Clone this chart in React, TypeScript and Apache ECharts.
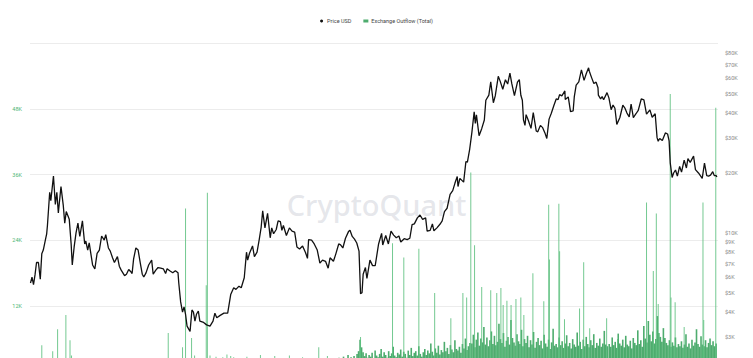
import React, { useEffect, useRef } from 'react';
import * as echarts from 'echarts';

const seriesNames = ['Price USD', 'Exchange Outflow (Total)'];

const priceUsd: [string, number][] = [
  ['2017-10-17', 5600], ['2017-10-21', 6000], ['2017-10-25', 5500], ['2017-10-29', 6150], ['2017-11-02', 7100],
  ['2017-11-07', 7100], ['2017-11-12', 5850], ['2017-11-16', 7850], ['2017-11-20', 8200], ['2017-11-26', 9300],
  ['2017-11-29', 9900], ['2017-12-01', 10900], ['2017-12-07', 16000], ['2017-12-10', 14500], ['2017-12-17', 19300],
  ['2017-12-22', 13900], ['2017-12-26', 16000], ['2017-12-30', 12600], ['2018-01-06', 17100], ['2018-01-12', 13800],
  ['2018-01-16', 11200], ['2018-01-20', 12800], ['2018-01-28', 11700], ['2018-02-02', 8800], ['2018-02-05', 6900],
  ['2018-02-10', 8500], ['2018-02-15', 10000], ['2018-02-20', 11200], ['2018-02-25', 9600], ['2018-03-04', 11500],
  ['2018-03-10', 8800], ['2018-03-13', 9100], ['2018-03-18', 8200], ['2018-03-22', 8900], ['2018-03-31', 6900],
  ['2018-04-06', 6600], ['2018-04-12', 7900], ['2018-04-18', 8200], ['2018-04-24', 9650], ['2018-05-01', 9200],
  ['2018-05-05', 9800], ['2018-05-12', 8400], ['2018-05-17', 8100], ['2018-05-23', 7500], ['2018-05-28', 7100],
  ['2018-06-05', 7600], ['2018-06-10', 6800], ['2018-06-15', 6500], ['2018-06-24', 6100], ['2018-06-29', 6200],
  ['2018-07-05', 6550], ['2018-07-10', 6400], ['2018-07-14', 6250], ['2018-07-18', 7400], ['2018-07-24', 8400],
  ['2018-07-30', 8200], ['2018-08-05', 7000], ['2018-08-10', 6200], ['2018-08-14', 6000], ['2018-08-20', 6300],
  ['2018-08-27', 6900], ['2018-09-04', 7300], ['2018-09-08', 6200], ['2018-09-15', 6500], ['2018-09-21', 6700],
  ['2018-09-28', 6650], ['2018-10-05', 6600], ['2018-10-11', 6250], ['2018-10-15', 6600], ['2018-10-22', 6450],
  ['2018-10-30', 6300], ['2018-11-06', 6450], ['2018-11-13', 6300], ['2018-11-15', 5600], ['2018-11-20', 4500],
  ['2018-11-25', 4000], ['2018-11-29', 4250], ['2018-12-03', 3900], ['2018-12-07', 3400], ['2018-12-15', 3200],
  ['2018-12-20', 4100], ['2018-12-24', 4000], ['2018-12-28', 3600], ['2019-01-01', 3900], ['2019-01-06', 4050],
  ['2019-01-10', 3600], ['2019-01-20', 3550], ['2019-01-28', 3450], ['2019-02-06', 3400], ['2019-02-14', 3600],
  ['2019-02-19', 3950], ['2019-02-24', 3750], ['2019-03-05', 3850], ['2019-03-15', 3950], ['2019-03-25', 3950],
  ['2019-04-02', 4900], ['2019-04-10', 5300], ['2019-04-16', 5200], ['2019-04-24', 5400], ['2019-04-30', 5300],
  ['2019-05-08', 5950], ['2019-05-14', 8000], ['2019-05-17', 7300], ['2019-05-22', 7900], ['2019-05-30', 8600],
  ['2019-06-04', 7600], ['2019-06-11', 8000], ['2019-06-17', 9300], ['2019-06-22', 10700], ['2019-06-26', 12900],
  ['2019-07-02', 10600], ['2019-07-09', 12550], ['2019-07-16', 9450], ['2019-07-20', 10600], ['2019-07-25', 9900],
  ['2019-08-01', 10400], ['2019-08-06', 11500], ['2019-08-12', 11400], ['2019-08-16', 10300], ['2019-08-20', 10900],
  ['2019-08-28', 9700], ['2019-09-05', 10600], ['2019-09-12', 10200], ['2019-09-19', 10100], ['2019-09-25', 8500],
  ['2019-10-02', 8300], ['2019-10-10', 8600], ['2019-10-18', 7950], ['2019-10-23', 7450], ['2019-10-26', 9250],
  ['2019-11-03', 9200], ['2019-11-10', 8800], ['2019-11-18', 8200], ['2019-11-25', 7050], ['2019-12-02', 7300],
  ['2019-12-10', 7200], ['2019-12-17', 6650], ['2019-12-22', 7500], ['2019-12-31', 7200], ['2020-01-06', 7800],
  ['2020-01-14', 8800], ['2020-01-19', 8700], ['2020-01-25', 8400], ['2020-02-01', 9400], ['2020-02-09', 10150],
  ['2020-02-13', 10300], ['2020-02-19', 9600], ['2020-02-25', 9300], ['2020-03-02', 8900], ['2020-03-08', 8100],
  ['2020-03-12', 4950], ['2020-03-16', 5000], ['2020-03-19', 6200], ['2020-03-25', 6700], ['2020-03-29', 5900],
  ['2020-04-06', 7300], ['2020-04-13', 6850], ['2020-04-20', 6850], ['2020-04-29', 8800], ['2020-05-07', 9950],
  ['2020-05-10', 8700], ['2020-05-18', 9700], ['2020-05-25', 8800], ['2020-06-01', 10200], ['2020-06-08', 9750],
  ['2020-06-15', 9450], ['2020-06-22', 9650], ['2020-06-27', 9000], ['2020-07-06', 9350], ['2020-07-14', 9250],
  ['2020-07-21', 9400], ['2020-07-27', 11000], ['2020-08-02', 11100], ['2020-08-10', 11900], ['2020-08-17', 12300],
  ['2020-08-24', 11700], ['2020-09-01', 11900], ['2020-09-05', 10200], ['2020-09-13', 10300], ['2020-09-19', 11100],
  ['2020-09-23', 10250], ['2020-10-01', 10600], ['2020-10-09', 11050], ['2020-10-15', 11500], ['2020-10-21', 12800],
  ['2020-10-28', 13300], ['2020-11-05', 15600], ['2020-11-12', 16300], ['2020-11-18', 17800], ['2020-11-24', 19200],
  ['2020-11-26', 17100], ['2020-12-01', 18800], ['2020-12-11', 18000], ['2020-12-17', 22800], ['2020-12-21', 22700],
  ['2020-12-27', 26300], ['2021-01-02', 32100], ['2021-01-08', 40600], ['2021-01-11', 35500], ['2021-01-14', 39200],
  ['2021-01-21', 30800], ['2021-01-28', 33400], ['2021-02-04', 36900], ['2021-02-08', 46400], ['2021-02-16', 49200],
  ['2021-02-21', 57500], ['2021-02-28', 45100], ['2021-03-05', 48800], ['2021-03-13', 61200], ['2021-03-18', 57900],
  ['2021-03-25', 52700], ['2021-04-01', 58800], ['2021-04-07', 56000], ['2021-04-13', 63500], ['2021-04-18', 56200],
  ['2021-04-25', 49000], ['2021-05-03', 57200], ['2021-05-08', 58900], ['2021-05-12', 49200], ['2021-05-16', 46400],
  ['2021-05-19', 37000], ['2021-05-23', 34700], ['2021-05-26', 39300], ['2021-06-01', 36700], ['2021-06-08', 33500],
  ['2021-06-14', 40200], ['2021-06-22', 32500], ['2021-06-26', 32200], ['2021-07-03', 34700], ['2021-07-09', 33800],
  ['2021-07-15', 31800], ['2021-07-20', 29800], ['2021-07-26', 37300], ['2021-08-01', 39900], ['2021-08-08', 43800],
  ['2021-08-14', 47100], ['2021-08-19', 46800], ['2021-08-23', 49500], ['2021-08-29', 48800], ['2021-09-06', 51700],
  ['2021-09-07', 46800], ['2021-09-15', 48200], ['2021-09-21', 40700], ['2021-09-28', 41000], ['2021-10-01', 48200],
  ['2021-10-06', 55300], ['2021-10-13', 57400], ['2021-10-20', 65900], ['2021-10-27', 58400], ['2021-11-02', 63200],
  ['2021-11-08', 67500], ['2021-11-10', 64900], ['2021-11-16', 60300], ['2021-11-22', 56300], ['2021-11-28', 57200],
  ['2021-12-03', 53600], ['2021-12-04', 49200], ['2021-12-10', 47200], ['2021-12-14', 48400], ['2021-12-18', 46700],
  ['2021-12-27', 50700], ['2022-01-01', 47700], ['2022-01-07', 41600], ['2022-01-12', 43900], ['2022-01-17', 42300],
  ['2022-01-22', 35100], ['2022-01-30', 37900], ['2022-02-07', 43800], ['2022-02-13', 42200], ['2022-02-18', 40000],
  ['2022-02-24', 38300], ['2022-03-01', 44400], ['2022-03-07', 38000], ['2022-03-14', 39700], ['2022-03-20', 41300],
  ['2022-03-28', 47100], ['2022-04-04', 46600], ['2022-04-11', 39500], ['2022-04-20', 41500], ['2022-04-26', 38100],
  ['2022-05-04', 39700], ['2022-05-09', 30100], ['2022-05-12', 28900], ['2022-05-16', 29800], ['2022-05-23', 29100],
  ['2022-05-31', 31800], ['2022-06-06', 31400], ['2022-06-10', 29000], ['2022-06-13', 22500], ['2022-06-18', 19000],
  ['2022-06-22', 20000], ['2022-06-27', 20700], ['2022-07-02', 19300], ['2022-07-08', 21600], ['2022-07-13', 20200],
  ['2022-07-20', 23200], ['2022-07-26', 21200], ['2022-07-30', 23600], ['2022-08-05', 22600], ['2022-08-14', 24300],
  ['2022-08-19', 20800], ['2022-08-27', 20000], ['2022-09-06', 18800], ['2022-09-12', 22400], ['2022-09-18', 19400],
  ['2022-09-23', 19300], ['2022-09-28', 19500], ['2022-10-04', 20300], ['2022-10-08', 19400], ['2022-10-13', 19400],
  ['2022-10-15', 19100],
];

// Exchange outflow: visible bars before 2020
const outflowEarly: [string, number][] = [
  ['2017-11-16', 4900], ['2017-12-15', 3800], ['2017-12-28', 7800], ['2018-01-19', 10400], ['2018-01-30', 5800],
  ['2018-02-03', 3000], ['2018-10-18', 7100], ['2018-11-25', 4500], ['2018-12-03', 29800], ['2018-12-19', 6200],
  ['2018-12-27', 3000], ['2019-01-27', 15800], ['2019-01-30', 32700], ['2019-02-06', 3000], ['2019-02-22', 2800],
  ['2019-03-12', 2700], ['2019-03-23', 3200], ['2019-04-02', 2900], ['2019-04-10', 2700], ['2019-05-15', 2800],
  ['2019-06-20', 3100], ['2019-07-28', 2900], ['2019-09-05', 3000], ['2019-10-10', 2700], ['2019-11-22', 4500],
  ['2019-12-15', 2900],
];

// Exchange outflow: large spikes from 2020
const outflowSpikes: [string, number][] = [
  ['2020-03-12', 6400], ['2020-06-05', 23500], ['2020-07-05', 20900], ['2020-08-14', 22500], ['2020-09-25', 14400],
  ['2020-11-07', 9800], ['2020-12-09', 14400], ['2020-12-19', 13600], ['2020-12-30', 36400], ['2021-01-09', 23100],
  ['2021-01-28', 15500], ['2021-02-21', 14900], ['2021-03-09', 14400], ['2021-03-20', 15300], ['2021-03-26', 12200],
  ['2021-04-05', 13000], ['2021-04-16', 12200], ['2021-04-29', 13300], ['2021-05-12', 13600], ['2021-05-20', 10400],
  ['2021-06-13', 18000], ['2021-07-12', 12900], ['2021-07-25', 30500], ['2021-07-27', 20500], ['2021-08-21', 30700],
  ['2021-08-23', 22000], ['2021-09-05', 9600], ['2021-10-15', 11600], ['2021-10-26', 20000], ['2021-11-11', 8000],
  ['2021-12-26', 9800], ['2022-01-24', 6000], ['2022-04-11', 30900], ['2022-04-29', 18400], ['2022-05-07', 28900],
  ['2022-05-12', 12400], ['2022-06-13', 50700], ['2022-06-15', 13600], ['2022-06-26', 12700], ['2022-07-20', 8200],
  ['2022-09-08', 30900], ['2022-09-10', 9500], ['2022-10-12', 48200],
];

// Exchange outflow: everyday level, one value every 4 days
const outflow2020Start = '2020-01-02';
const outflow2020 = [
  1800, 2200, 1600, 2600, 2100, 1900, 2800, 2300, 2000, 3100, 2400, 2700, 2200, 2900, 2500, 3300, 3800, 5900, 4500, 3600,
  2900, 3400, 2600, 3100, 2800, 3500, 2400, 3900, 3000, 2700, 3300, 4200, 2800, 3600, 3100, 2600, 3800, 2900, 3400, 4600,
  3000, 2700, 3500, 3200, 4100, 2800, 3700, 3300, 2600, 3900, 3100, 4400, 2900, 3500, 3800, 3000, 4700, 3300, 2800, 3600,
  4200, 3100, 3900, 3400, 5200, 3700, 3000, 4300, 3500, 4800, 3200, 4000, 3600, 5500, 3800, 4400, 3300, 4900, 4100, 3600,
  5800, 4200, 3900, 4600, 3500, 5100, 4300, 6100, 4000, 4700, 5300,
];
const outflow2021Start = '2021-01-01';
const outflow2021 = [
  5200, 6800, 4500, 5900, 7200, 4800, 6100, 5400, 8200, 5000, 6300, 4700, 5800, 7400, 5100, 6600, 4900, 5500, 8800, 6000,
  5300, 7100, 4600, 5700, 6400, 5000, 9500, 6200, 5400, 4800, 6900, 5600, 5100, 7700, 4700, 6000, 5300, 6600, 4500, 5800,
  5000, 7300, 4400, 5500, 6200, 4900, 5700, 4300, 6800, 5200, 4600, 5900, 4200, 5400, 7900, 4800, 5100, 4500, 6300, 4900,
  5600, 4400, 5200, 6700, 4700, 5300, 4300, 6000, 5000, 4600, 7200, 4800, 5500, 4200, 5900, 4700, 6400, 5100, 4500, 5800,
  4900, 6900, 4400, 5300, 4800, 6100, 4600, 5200, 7500, 5000, 4700,
];
const outflow2022Start = '2022-01-01';
const outflow2022 = [
  5100, 4600, 6300, 4900, 5500, 4400, 7000, 5200, 4800, 5900, 4500, 6600, 5000, 4700, 5700, 4300, 6200, 5300, 4900, 7600,
  5100, 5800, 4600, 8400, 6100, 5400, 9300, 6800, 5600, 7400, 5200, 6000, 10200, 7100, 6400, 5500, 8000, 6200, 5300, 4900,
  5800, 4600, 5400, 4800, 6300, 4500, 5100, 4700, 5600, 4400, 5000, 6900, 4600, 5200, 4300, 5900, 4800, 5400, 7800, 5100,
  4600, 6500, 5000, 4700, 5800, 4500, 5300, 6100, 4900, 5600, 4700, 5200,
];

const xStart = '2017-10-17';
const xEnd = '2022-10-15';
const outflowAxis = { min: 0, max: 60000, interval: 12000 };
const priceAxis = { min: 2000, max: 90000 };
const priceTickValues = [3000, 4000, 5000, 6000, 7000, 8000, 9000, 10000, 20000, 30000, 40000, 50000, 60000, 70000, 80000];

const DAY = 86400000;
function ts(d: string): number {
  const [y, m, dd] = d.split('-').map(Number);
  return Date.UTC(y, m - 1, dd);
}
function stepped(start: string, values: number[], step: number): [number, number][] {
  const t0 = ts(start);
  return values.map((v, i) => [t0 + i * step * DAY, v]);
}

export default function App() {
  const ref = useRef<HTMLDivElement>(null);
  useEffect(() => {
    if (!ref.current) return;
    const chart = echarts.init(ref.current, undefined, { renderer: 'svg' });
    const priceData = priceUsd.map(([d, v]) => [ts(d), v]);
    const levelData = [
      ...stepped(outflow2020Start, outflow2020, 4),
      ...stepped(outflow2021Start, outflow2021, 4),
      ...stepped(outflow2022Start, outflow2022, 4),
    ];
    const spikeData = [
      ...outflowEarly.map(([d, v]) => [ts(d), v] as [number, number]),
      ...outflowSpikes.map(([d, v]) => [ts(d), v] as [number, number]),
    ];

    chart.setOption({
      animation: false,
      backgroundColor: '#ffffff',
      textStyle: { fontFamily: 'Roboto, "Noto Sans", sans-serif' },
      legend: {
        top: 13,
        left: 'center',
        itemWidth: 5,
        itemHeight: 3,
        itemGap: 12,
        textStyle: { fontSize: 5.5, color: '#444', padding: [0, 0, 0, -2] },
        data: [
          { name: seriesNames[0], icon: 'circle' },
          { name: seriesNames[1], icon: 'rect' },
        ],
      },
      grid: { left: 30, right: 35, top: 43, bottom: 28 },
      xAxis: {
        type: 'time',
        min: ts(xStart),
        max: ts(xEnd),
        show: false,
        splitLine: { show: false },
      },
      yAxis: [
        {
          type: 'value',
          position: 'left',
          min: outflowAxis.min,
          max: outflowAxis.max,
          interval: outflowAxis.interval,
          axisLine: { show: false },
          axisTick: { show: false },
          splitLine: { show: true, lineStyle: { color: '#ececec', width: 1 } },
          axisLabel: {
            color: '#4cb574',
            fontSize: 5.5,
            margin: 8,
            formatter: (v: number) => (v === 0 || v === outflowAxis.max ? '' : v / 1000 + 'K'),
          },
        },
        {
          type: 'log',
          logBase: 10,
          position: 'right',
          min: priceAxis.min,
          max: priceAxis.max,
          axisLine: { show: false },
          axisTick: { show: false },
          splitLine: { show: false },
          axisLabel: {
            color: '#888',
            fontSize: 5.5,
            margin: 7,
            customValues: priceTickValues,
            formatter: (v: number) => '$' + Math.round(v / 1000) + 'K',
          },
        },
      ],
      graphic: [
        {
          type: 'text',
          left: 'center',
          top: 190,
          z: 0,
          style: {
            text: 'CryptoQuant',
            fontSize: 29,
            fontWeight: 500,
            fontFamily: '"Noto Sans", sans-serif',
            fill: 'rgba(190,192,204,0.4)',
          },
        },
      ],
      series: [
        {
          name: seriesNames[1],
          type: 'bar',
          yAxisIndex: 0,
          data: levelData,
          barWidth: 1.6,
          barGap: '-100%',
          itemStyle: { color: '#2f9e55', opacity: 0.85 },
          z: 2,
        },
        {
          name: seriesNames[1],
          type: 'bar',
          yAxisIndex: 0,
          data: spikeData,
          barWidth: 1,
          barGap: '-100%',
          itemStyle: { color: '#5cbf7e', opacity: 0.85 },
          z: 2,
        },
        {
          name: seriesNames[0],
          type: 'line',
          yAxisIndex: 1,
          data: priceData,
          showSymbol: false,
          symbol: 'none',
          itemStyle: { color: '#111' },
          lineStyle: { color: '#111', width: 1.3 },
          z: 3,
        },
      ],
    });
    return () => chart.dispose();
  }, []);
  return <div ref={ref} style={{ position: 'fixed', left: 0, top: 0, width: 753, height: 400 }} />;
}
